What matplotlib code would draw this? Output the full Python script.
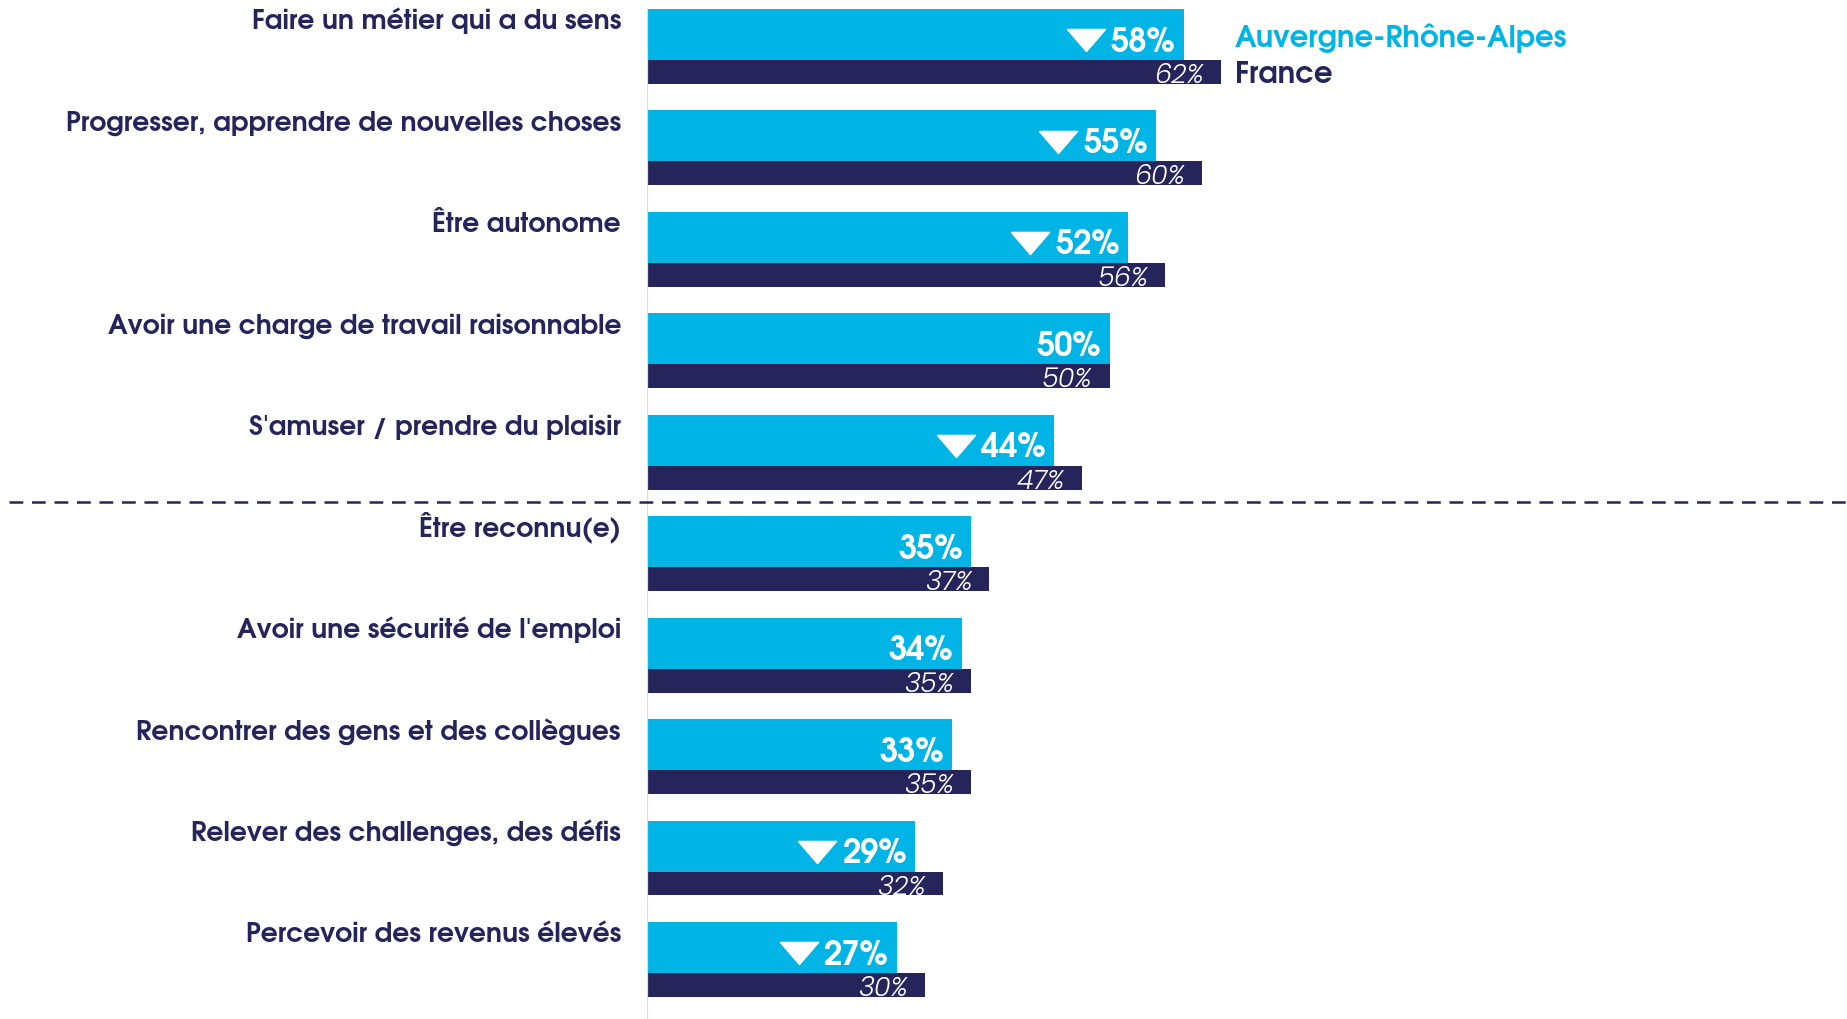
import matplotlib
matplotlib.use("Agg")
import matplotlib.pyplot as plt
from matplotlib import transforms
from matplotlib.lines import Line2D
import numpy as np

# data
categories = [
    "Faire un métier qui a du sens",
    "Progresser, apprendre de nouvelles choses",
    "Être autonome",
    "Avoir une charge de travail raisonnable",
    "S'amuser / prendre du plaisir",
    "Être reconnu(e)",
    "Avoir une sécurité de l'emploi",
    "Rencontrer des gens et des collègues",
    "Relever des challenges, des défis",
    "Percevoir des revenus élevés",
]
region_values = [58, 55, 52, 50, 44, 35, 34, 33, 29, 27]
france_values = [62, 60, 56, 50, 47, 37, 35, 35, 32, 30]
significantly_lower = [True, True, True, False, True, False, False, False, True, True]
region_name = "Auvergne-Rhône-Alpes"
country_name = "France"
split_after = 5  # dashed separator between the top 5 and the rest

CYAN = "#00b5e6"
NAVY = "#26255b"
LABEL_FONT = "TeX Gyre Adventor"
SMALL_FONT = "Poppins"

W, H = 1847, 1019
fig = plt.figure(figsize=(W / 100, H / 100), dpi=100)
ax = fig.add_axes([647 / W, 0, 1 - 647 / W, 1])

pitch = 101.44   # px per category row
top_px = 9.0
px_per_pct = 9.25
ax.set_xlim(0, (W - 647) / px_per_pct)
ax.set_ylim((H - top_px) / pitch, -top_px / pitch)
ax.axis("off")

y = np.arange(len(categories))
h_region = 0.503
h_france = 0.235
ax.barh(y, region_values, height=h_region, align="edge", color=CYAN, zorder=2)
ax.barh(y + h_region, france_values, height=h_france, align="edge", color=NAVY, zorder=2)

# vertical baseline
ax.vlines(0, 0, ax.get_ylim()[0], color="#d9d9f2", lw=1.6, zorder=3)

# dashed separator spanning the whole width
sep_y = split_after - 1 + h_region + h_france + 0.12
trans = transforms.blended_transform_factory(fig.transFigure, ax.transData)
fig.add_artist(Line2D([9 / W, 1], [sep_y, sep_y], transform=trans, color=NAVY,
                      lw=1.8, dashes=(5.5, 3.5)))

# triangle marker (down arrow), wider than tall
tri = [(-1, 0.58), (1, 0.58), (0, -0.58), (-1, 0.58)]
tri_trans = transforms.offset_copy(ax.transData, fig=fig, x=-98, y=0, units="dots")

for i, (cat, rv, fv, low) in enumerate(zip(categories, region_values, france_values, significantly_lower)):
    ax.annotate(cat, xy=(0, i + 0.20), xytext=(-26 * 0.72, 0), textcoords="offset points",
                ha="right", va="baseline", color=NAVY, fontsize=19.2,
                family=LABEL_FONT, weight="bold")
    ax.annotate(f"{rv}%", xy=(rv, i + 0.42), xytext=(-8 * 0.72, 0), textcoords="offset points",
                ha="right", va="baseline", color="white", fontsize=23.5,
                family=LABEL_FONT, weight="bold", zorder=4)
    ax.annotate(f"{fv}%", xy=(fv, i + 0.73), xytext=(-17 * 0.72, 0), textcoords="offset points",
                ha="right", va="baseline", color="white", fontsize=19.5,
                family=SMALL_FONT, weight=300, style="italic", zorder=4)
    if low:
        ax.plot(rv, i + 0.31, marker=tri, markersize=27.5, color="white", ls="none",
                transform=tri_trans, zorder=4)

# legend as coloured text
fig.text(1235 / W, 1 - 47 / H, region_name, color=CYAN, fontsize=21,
         family=LABEL_FONT, weight="bold", va="baseline")
fig.text(1235 / W, 1 - 83 / H, country_name, color=NAVY, fontsize=21,
         family=LABEL_FONT, weight="bold", va="baseline")

fig.savefig("out.png", dpi=100)
